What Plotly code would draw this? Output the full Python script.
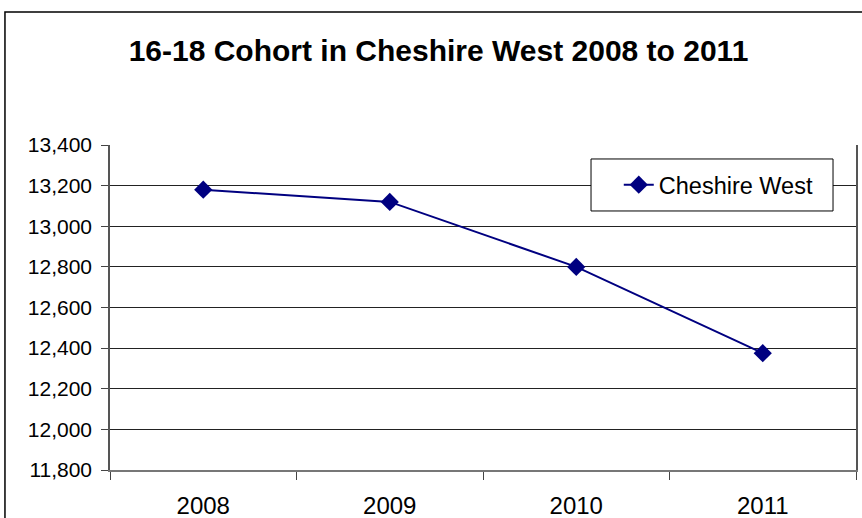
import plotly.graph_objects as go

years = ["2008", "2009", "2010", "2011"]
cohort = [13180, 13120, 12800, 12375]

fig = go.Figure()
fig.add_trace(go.Scatter(
    x=years,
    y=cohort,
    mode="lines+markers",
    name="Cheshire West",
    line=dict(color="#000080", width=2),
    marker=dict(symbol="diamond", size=14, color="#000080"),
))

fig.update_layout(
    width=862,
    height=518,
    paper_bgcolor="#ffffff",
    plot_bgcolor="#ffffff",
    margin=dict(l=110, r=6, t=145, b=48),
    font=dict(family="Liberation Sans, Arial, sans-serif", size=21, color="#000000"),
    title=dict(
        text="<b>16-18 Cohort in Cheshire West 2008 to 2011</b>",
        x=0.5087, xanchor="center", y=0.903, yanchor="middle",
        font=dict(size=30, color="#000000"),
    ),
    showlegend=True,
    legend=dict(
        x=0.682, y=0.945, xanchor="left", yanchor="top",
        borderwidth=0, bgcolor="rgba(0,0,0,0)",
        font=dict(size=23.5),
    ),
    shapes=[
        # outer chart frame
        dict(type="rect", xref="paper", yref="paper",
             x0=-0.1408, x1=1.05, y0=-0.3, y1=1.409,
             line=dict(color="#000000", width=1.5), layer="below"),
        # legend box
        dict(type="rect", xref="paper", yref="paper",
             x0=0.6448, x1=0.9692, y0=0.797, y1=0.957,
             fillcolor="#ffffff", line=dict(color="#000000", width=1),
             layer="above"),
    ],
)

fig.update_xaxes(
    type="category",
    range=[-0.5, 3.5],
    automargin=False,
    tickson="boundaries",
    ticks="outside",
    ticklen=8,
    tickcolor="#444444",
    tickfont=dict(size=24),
    ticklabelstandoff=13,
    showgrid=False,
    showline=True,
    linecolor="#777777",
    linewidth=1.5,
    zeroline=False,
)
fig.update_yaxes(
    range=[11800, 13400],
    automargin=False,
    dtick=200,
    tickformat=",",
    ticks="outside",
    ticklen=7,
    tickcolor="#444444",
    tickfont=dict(size=21),
    ticklabelstandoff=5,
    showgrid=True,
    gridcolor="#222222",
    gridwidth=1,
    showline=True,
    linecolor="#555555",
    linewidth=1.5,
    mirror=True,
    zeroline=False,
)

fig.write_html(
    "out.html",
    config={"displayModeBar": False},
    post_script="document.body.style.margin='0';",
)
